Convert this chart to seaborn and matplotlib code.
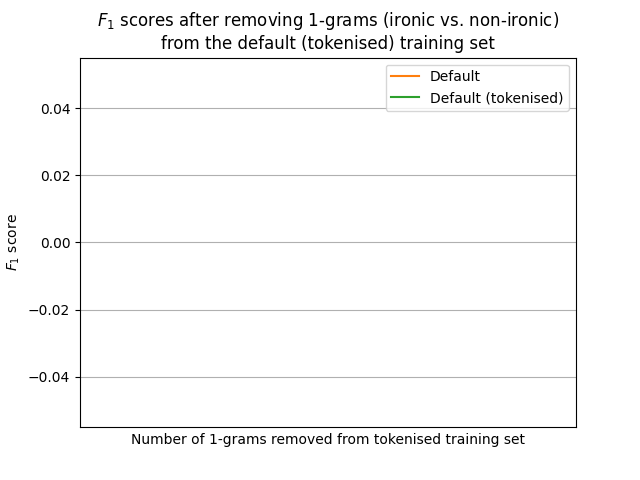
import matplotlib
matplotlib.use('Agg')
import matplotlib.pyplot as plt
import seaborn as sns

# the source chart has no data points drawn: both series are empty
removed = []
f1_default = []
f1_tokenised = []
series_labels = ['Default', 'Default (tokenised)']

plt.rcParams['font.family'] = ['DejaVu Sans']

fig, ax = plt.subplots(figsize=(6.4, 4.8), dpi=100)
sns.lineplot(x=removed, y=f1_default, ax=ax)
ax.plot(removed, f1_default, color='C1', label=series_labels[0])
ax.plot(removed, f1_tokenised, color='C2', label=series_labels[1])

ax.set_ylim(-0.055, 0.055)
ax.set_xlim(-0.055, 0.055)
ax.set_xticks([])
ax.yaxis.grid(True, color='#b0b0b0', linewidth=0.8)
ax.set_axisbelow(True)

ax.set_title('$F_1$ scores after removing 1-grams (ironic vs. non-ironic)\nfrom the default (tokenised) training set', fontsize=12)
ax.set_xlabel('Number of 1-grams removed from tokenised training set')
ax.set_ylabel('$F_1$ score')
ax.legend(loc='upper right')

fig.subplots_adjust(left=0.125, right=0.9, top=0.88, bottom=0.11)
fig.savefig('out.png', dpi=100)
